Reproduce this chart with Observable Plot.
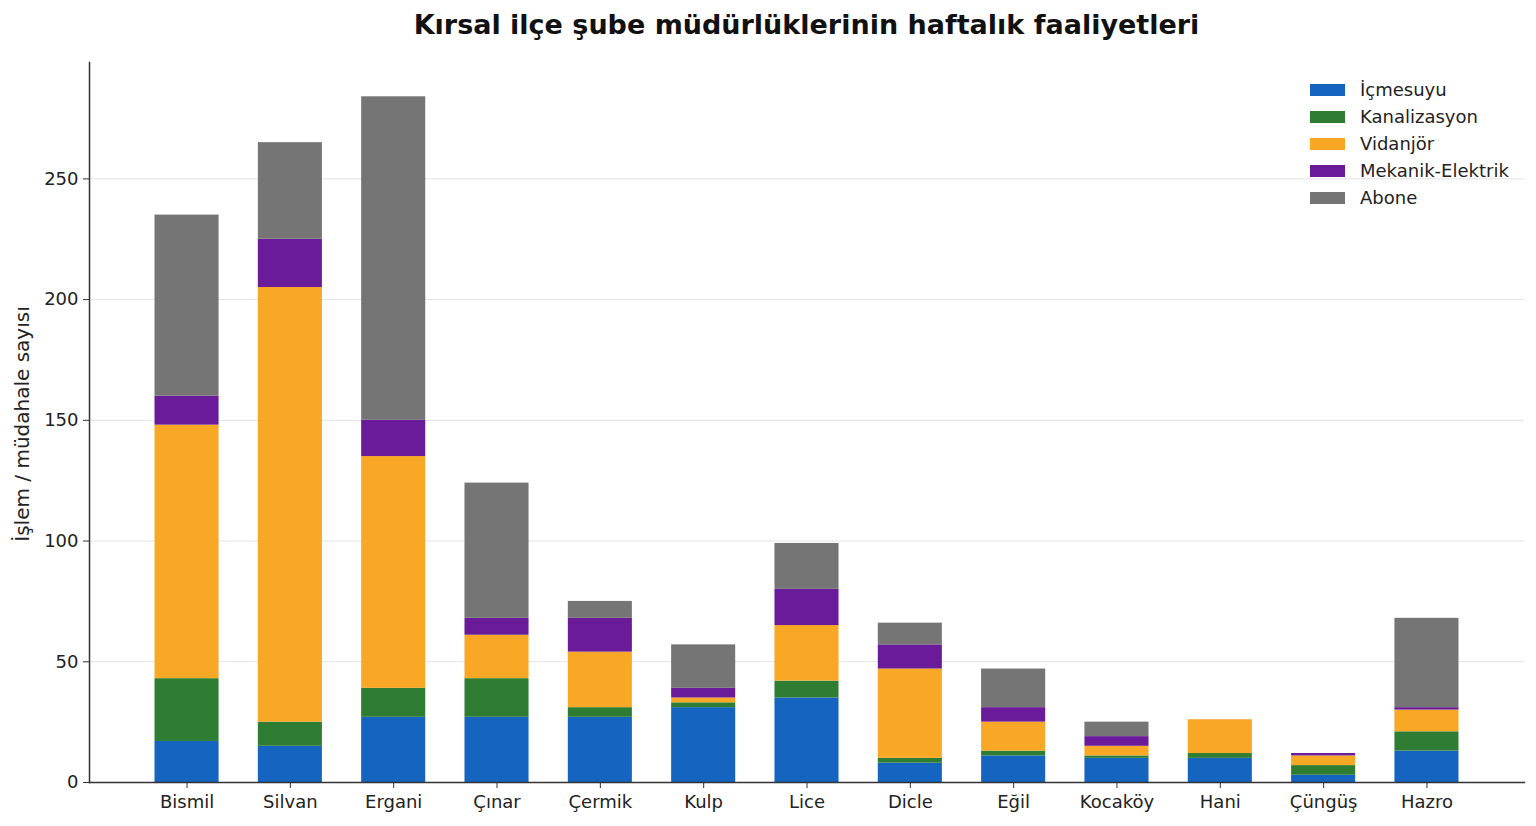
<!DOCTYPE html>
<html>
<head>
<meta charset="utf-8">
<script src="https://cdn.jsdelivr.net/npm/d3@7"></script>
<script src="https://cdn.jsdelivr.net/npm/@observablehq/plot@0.6"></script>
<style>
  html, body { margin: 0; padding: 0; background: #fff; }
  body { width: 1536px; height: 826px; position: relative; overflow: hidden; font-family: "DejaVu Sans", sans-serif; }
  #title { height: 50px; line-height: 50px; text-align: center; font-weight: bold; font-size: 27px; color: #111; padding-left: 77px; box-sizing: border-box; width: 1536px; }
  #legend { position: absolute; left: 1310px; top: 76px; font-size: 18px; color: #222; }
  #legend .row { height: 27px; display: flex; align-items: center; }
  #legend .sw { width: 35px; height: 12px; margin-right: 15px; }
  #ylabel { position: absolute; left: 22px; top: 424px; transform: translate(-50%, -50%) rotate(-90deg); font-size: 20px; color: #222; white-space: nowrap; }
</style>
</head>
<body>
<div id="title">Kırsal ilçe şube müdürlüklerinin haftalık faaliyetleri</div>
<div id="chart"></div>
<div id="ylabel">İşlem / müdahale sayısı</div>
<div id="legend"></div>
<script>
const districts = ["Bismil", "Silvan", "Ergani", "Çınar", "Çermik", "Kulp", "Lice", "Dicle", "Eğil", "Kocaköy", "Hani", "Çüngüş", "Hazro"];
const series = ["İçmesuyu", "Kanalizasyon", "Vidanjör", "Mekanik-Elektrik", "Abone"];
const colors = ["#1565c0", "#2e7d32", "#f9a825", "#6a1b9a", "#757575"];
const icmesuyu     = [17, 15, 27, 27, 27, 31, 35,  8, 11, 10, 10, 3, 13];
const kanalizasyon = [26, 10, 12, 16,  4,  2,  7,  2,  2,  1,  2, 4,  8];
const vidanjor     = [105, 180, 96, 18, 23, 2, 23, 37, 12,  4, 14, 4,  9];
const mekanik      = [12, 20, 15,  7, 14,  4, 15, 10,  6,  4,  0, 1,  1];
const abone        = [75, 40, 134, 56,  7, 18, 19,  9, 16,  6,  0, 0, 37];
const yTicks = [0, 50, 100, 150, 200, 250];

const valuesBySeries = [icmesuyu, kanalizasyon, vidanjor, mekanik, abone];
const data = [];
series.forEach((s, si) => {
  districts.forEach((d, di) => {
    data.push({district: d, series: s, value: valuesBySeries[si][di]});
  });
});

const chart = Plot.plot({
  width: 1536,
  height: 776,
  marginTop: 12,
  marginBottom: 44,
  marginLeft: 89,
  marginRight: 12,
  style: {fontFamily: "DejaVu Sans, sans-serif", fontSize: "18px", color: "#222", background: "#fff"},
  x: {domain: districts, paddingInner: 0.38, paddingOuter: 0.634, round: false, label: null},
  y: {domain: [0, 298.2], label: null},
  color: {domain: series, range: colors},
  marks: [
    Plot.gridY(yTicks, {stroke: "#e3e3e3", strokeOpacity: 1, strokeWidth: 1}),
    Plot.barY(data, {x: "district", y: "value", fill: "series", order: series}),
    Plot.axisY(yTicks, {tickSize: 6, tickPadding: 5, fontSize: 18, stroke: "#333", fill: "#222", label: null}),
    Plot.axisX({tickSize: 6, tickPadding: 7, fontSize: 18, stroke: "#333", fill: "#222", label: null}),
    Plot.frame({anchor: "left", stroke: "#333", strokeWidth: 1.5}),
    Plot.frame({anchor: "bottom", stroke: "#333", strokeWidth: 1.5})
  ]
});
document.getElementById("chart").appendChild(chart);

const legend = document.getElementById("legend");
series.forEach((s, i) => {
  const row = document.createElement("div");
  row.className = "row";
  const sw = document.createElement("div");
  sw.className = "sw";
  sw.style.background = colors[i];
  const t = document.createElement("span");
  t.textContent = s;
  row.appendChild(sw);
  row.appendChild(t);
  legend.appendChild(row);
});
</script>
</body>
</html>
